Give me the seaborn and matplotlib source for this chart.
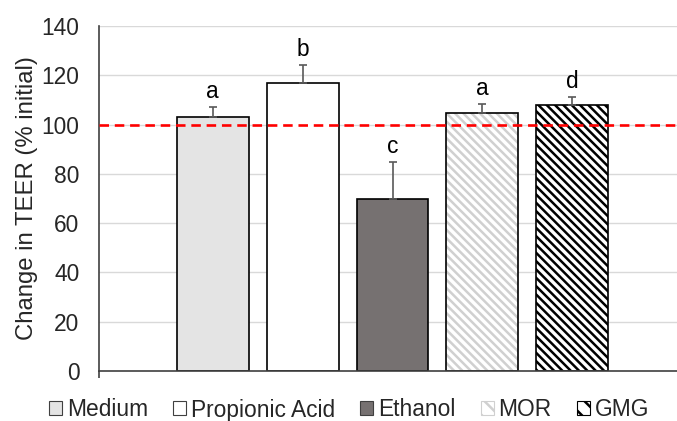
import matplotlib
matplotlib.use("Agg")
import matplotlib.pyplot as plt
import seaborn as sns
import pandas as pd
import numpy as np
from matplotlib.patches import Patch

treatments = ["Medium", "Propionic Acid", "Ethanol", "MOR", "GMG"]
values = [103.0, 117.0, 69.8, 104.7, 108.1]
errors = [4.3, 7.3, 15.0, 3.8, 3.0]
letters = ["a", "b", "c", "a", "d"]
yticks = [0, 20, 40, 60, 80, 100, 120, 140]

face_colors = ["#e4e4e4", "#ffffff", "#767171", "#ffffff", "#ffffff"]
hatch_colors = [None, None, None, "#d0d0d0", "#000000"]
hatches = [None, None, None, "\\\\\\\\", "\\\\\\\\"]

sns.set_theme(style="white")
plt.rcParams["font.family"] = ["Liberation Sans", "DejaVu Sans"]
plt.rcParams["hatch.linewidth"] = 1.8

df = pd.DataFrame({"group": [""] * len(treatments), "value": values, "treatment": treatments})

fig = plt.figure(figsize=(6.77, 4.21), dpi=100)
ax = fig.add_axes([99 / 677, 50 / 421, 587 / 677, 345 / 421])

# base layer: fills + hatches
sns.barplot(data=df, x="group", y="value", hue="treatment", hue_order=treatments,
            palette=face_colors, gap=0.2, width=0.8, errorbar=None, ax=ax,
            linewidth=0, legend=False)
base = list(ax.patches)
for p, fc, hc, h in zip(base, face_colors, hatch_colors, hatches):
    p.set_facecolor(fc)
    if h:
        p.set_hatch(h)
        p.set_edgecolor(hc)
        p.set_linewidth(0)

# outline layer
sns.barplot(data=df, x="group", y="value", hue="treatment", hue_order=treatments,
            fill=False, gap=0.2, width=0.8, errorbar=None, ax=ax,
            linewidth=1.2, legend=False)
outlines = list(ax.patches)[len(base):]
for p in outlines:
    p.set_edgecolor("black")
    p.set_facecolor("none")

xs = [p.get_x() + p.get_width() / 2 for p in base]
ax.errorbar(xs, values, yerr=[np.zeros(len(errors)), errors], fmt="none",
            ecolor="#595959", elinewidth=1.2, capsize=2.6, capthick=1.2, zorder=1)

for x, v, e, t in zip(xs, values, errors, letters):
    ax.annotate(t, (x, v + e), xytext=(0, 6.5), textcoords="offset points",
                ha="center", va="baseline", fontsize=16.4, color="black")

ax.axhline(100, color="#ff0000", lw=1.9, dashes=(3.6, 2.2), zorder=5)

ax.set_xlim(-0.522, 0.522)
ax.set_ylim(0, 140)
ax.set_yticks(yticks)
ax.set_yticklabels([str(t) for t in yticks], fontsize=16.4)
ax.set_xticks([-0.522])
ax.set_xticklabels([""])
ax.tick_params(axis="x", length=5, width=1.2, color="#404040", direction="out", bottom=True)
ax.tick_params(axis="y", length=0, pad=14)
ax.yaxis.grid(True, color="#d9d9d9", lw=1)
ax.set_axisbelow(True)
ax.set_xlabel("")
ax.set_ylabel("Change in TEER (% initial)", fontsize=17.2, labelpad=3)
for s in ["top", "right"]:
    ax.spines[s].set_visible(False)
ax.spines["left"].set_color("#404040")
ax.spines["bottom"].set_color("#404040")
ax.spines["left"].set_linewidth(1.2)
ax.spines["bottom"].set_linewidth(1.2)

handles = []
for fc, hc, h in zip(face_colors, hatch_colors, hatches):
    handles.append(Patch(facecolor=fc, edgecolor=hc if hc else "#404040",
                         hatch=("\\\\" if h else None), linewidth=0.8))
fig.legend(handles, treatments, loc="center", bbox_to_anchor=(349 / 677, 11 / 421),
           ncol=5, frameon=False, fontsize=16.4, handlelength=0.57, handleheight=0.57,
           handletextpad=0.22, columnspacing=1.1, borderaxespad=0, borderpad=0)

fig.savefig("out.png", dpi=100)
